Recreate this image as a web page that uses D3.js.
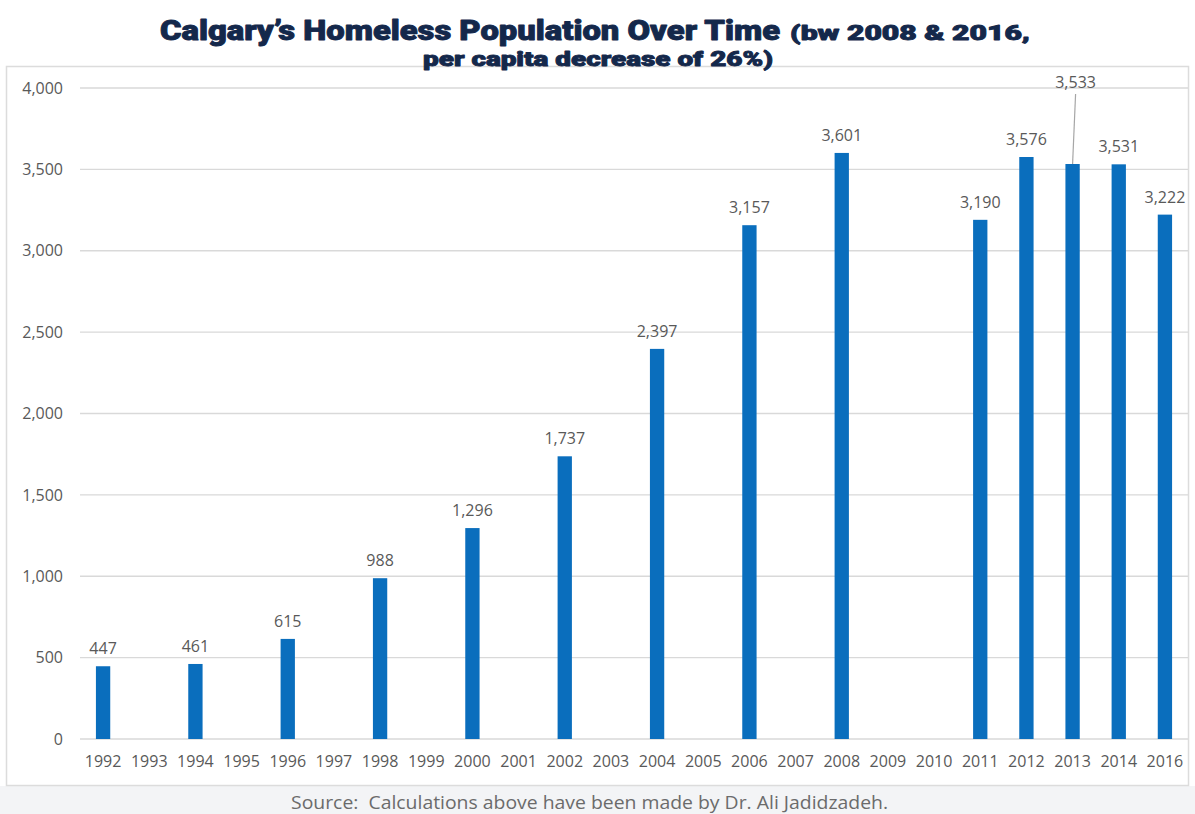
<!DOCTYPE html>
<html>
<head>
<meta charset="utf-8">
<script src="https://cdn.jsdelivr.net/npm/d3@7"></script>
<style>
html,body{margin:0;padding:0;background:#ffffff;}
svg{display:block;}
</style>
</head>
<body>
<svg id="chart" width="1195" height="814"></svg>
<script>
const years = ["1992","1993","1994","1995","1996","1997","1998","1999","2000","2001","2002","2003","2004","2005","2006","2007","2008","2009","2010","2011","2012","2013","2014","2016"];
const homeless = [447,null,461,null,615,null,988,null,1296,null,1737,null,2397,null,3157,null,3601,null,null,3190,3576,3533,3531,3222];
const yTicks = [0,500,1000,1500,2000,2500,3000,3500,4000];
const titleMain = "Calgary\u2019s Homeless Population Over Time";
const titleParen1 = "(bw 2008 & 2016,";
const titleParen2 = "per capita decrease of 26%)";
const sourceText = "Source:  Calculations above have been made by Dr. Ali Jadidzadeh.";

const W = 1195, H = 814;
const svg = d3.select("#chart");
const fontUI = "'Open Sans', 'Noto Sans', sans-serif";
const gray = "#595959";

// background
svg.append("rect").attr("x",0).attr("y",0).attr("width",W).attr("height",H).attr("fill","#ffffff");
svg.append("rect").attr("x",0).attr("y",786).attr("width",W).attr("height",H-786).attr("fill","#f3f4f6");
// frame
svg.append("rect").attr("x",6.5).attr("y",66.5).attr("width",1182).attr("height",719)
  .attr("fill","#ffffff").attr("stroke","#dcdcdc").attr("stroke-width",1.5);

const x = d3.scaleBand().domain(years).range([80,1188]).paddingInner(0.69).paddingOuter(0.345);
const y = d3.scaleLinear().domain([0,4000]).range([739,88]);

// gridlines
svg.append("g").selectAll("line").data(yTicks).join("line")
  .attr("x1",80).attr("x2",1188)
  .attr("y1",d=>y(d)).attr("y2",d=>y(d))
  .attr("stroke","#d9d9d9").attr("stroke-width",1.3);

// y axis
const yAxis = d3.axisLeft(y).tickValues(yTicks).tickFormat(d3.format(",")).tickSize(0).tickPadding(0);
const yg = svg.append("g").attr("transform","translate(63,0)").call(yAxis);
yg.select(".domain").remove();
yg.selectAll("text").attr("font-family",fontUI).attr("font-size",16).attr("fill",gray);

// x axis
const xAxis = d3.axisBottom(x).tickSize(0).tickPadding(0);
const xg = svg.append("g").attr("transform","translate(0,756)").call(xAxis);
xg.select(".domain").remove();
xg.selectAll("text").attr("font-family",fontUI).attr("font-size",16).attr("fill",gray).attr("dy","0.71em");

// bars
const data = years.map((yr,i)=>({year:yr, v:homeless[i]})).filter(d=>d.v!==null);
svg.append("g").selectAll("rect").data(data).join("rect")
  .attr("x",d=>x(d.year)).attr("width",x.bandwidth())
  .attr("y",d=>y(d.v)).attr("height",d=>y(0)-y(d.v))
  .attr("fill","#0a6ebd");

// value labels
const fmt = d3.format(",");
const leaderYear = "2013";
svg.append("g").selectAll("text").data(data).join("text")
  .attr("x",d=>x(d.year)+x.bandwidth()/2 + (d.year===leaderYear?3:0))
  .attr("y",d=>d.year===leaderYear ? y(4000)+0 : y(d.v)-12)
  .attr("text-anchor","middle")
  .attr("font-family",fontUI).attr("font-size",16).attr("fill",gray)
  .text(d=>fmt(d.v));
// leader line for 2013
const ld = data.find(d=>d.year===leaderYear);
svg.append("line")
  .attr("x1",x(ld.year)+x.bandwidth()/2+3).attr("y1",y(4000)+6)
  .attr("x2",x(ld.year)+x.bandwidth()/2).attr("y2",y(ld.v))
  .attr("stroke","#a6a6a6").attr("stroke-width",1.2);

// title
const navy = "#14284b";
const titleFont = "Roboto, 'Liberation Sans', sans-serif";
function titleText(str, tx, ty, size, len){
  svg.append("text").attr("x",tx).attr("y",ty)
    .attr("font-family",titleFont).attr("font-weight",900)
    .attr("font-size",size).attr("fill",navy)
    .attr("stroke",navy).attr("stroke-width",0.9).attr("stroke-linejoin","round")
    .attr("textLength",len).attr("lengthAdjust","spacingAndGlyphs")
    .text(str);
}
titleText(titleMain, 160, 40, 28, 620);
titleText(titleParen1, 790, 40, 21, 240);
titleText(titleParen2, 423, 66, 21, 350);

// source
svg.append("text").attr("x",291).attr("y",809)
  .attr("font-family",fontUI).attr("font-size",17.5).attr("fill","#6b6b6b")
  .attr("xml:space","preserve")
  .attr("textLength",597).attr("lengthAdjust","spacingAndGlyphs")
  .text(sourceText);
</script>
</body>
</html>
